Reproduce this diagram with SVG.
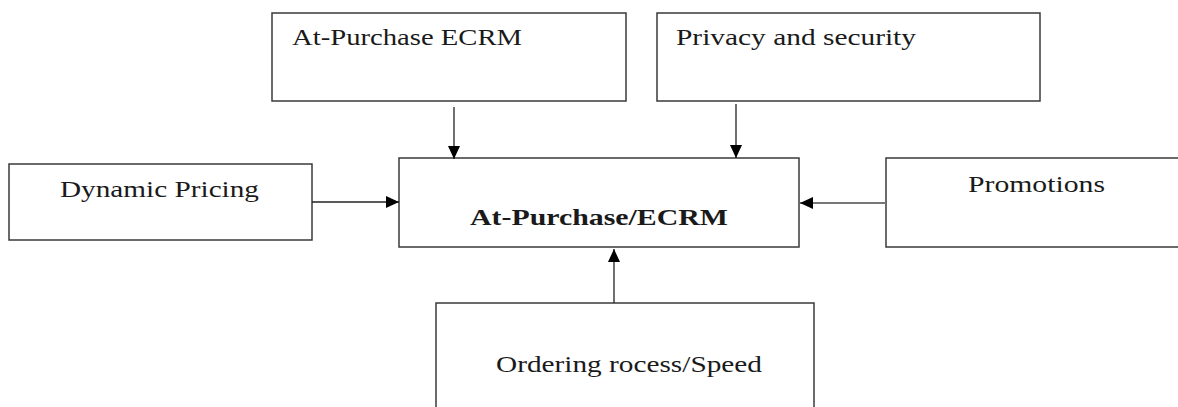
<svg xmlns="http://www.w3.org/2000/svg" width="1178" height="407" viewBox="0 0 1178 407">
<style>
.box{fill:#fff;stroke:#3a3a3a;stroke-width:1.5}
.t{font-family:'Liberation Serif','Times New Roman',Times,Tinos,serif;font-size:23px;fill:#1a1a1a}
.b{font-weight:bold}
.c{stroke:#222;stroke-width:1.3;fill:none;marker-end:url(#ah)}
</style>
<defs>
<marker id="ah" markerUnits="userSpaceOnUse" markerWidth="14" markerHeight="12" refX="13" refY="6" orient="auto">
<path d="M0,0 L13,6 L0,12 Z" fill="#000"/>
</marker>
</defs>
<rect width="1178" height="407" fill="#fff"/>
<g id="n-center"><rect class="box" x="399" y="158" width="400" height="89"/><text class="t b" x="470" y="225" textLength="258" lengthAdjust="spacingAndGlyphs">At-Purchase/ECRM</text></g>
<g id="n-atpurchase"><rect class="box" x="272" y="13" width="354" height="88"/><text class="t" x="292" y="45" textLength="230" lengthAdjust="spacingAndGlyphs">At-Purchase ECRM</text></g>
<g id="n-privacy"><rect class="box" x="657" y="13" width="383" height="88"/><text class="t" x="676" y="45" textLength="240" lengthAdjust="spacingAndGlyphs">Privacy and security</text></g>
<g id="n-dynamic"><rect class="box" x="9" y="164" width="303" height="76"/><text class="t" x="60" y="197" textLength="199" lengthAdjust="spacingAndGlyphs">Dynamic Pricing</text></g>
<g id="n-promotions"><rect class="box" x="886" y="158" width="300" height="89"/><text class="t" x="968" y="192" textLength="137" lengthAdjust="spacingAndGlyphs">Promotions</text></g>
<g id="n-ordering"><rect class="box" x="436" y="303" width="378" height="110"/><text class="t" x="496" y="372" textLength="266" lengthAdjust="spacingAndGlyphs">Ordering rocess/Speed</text></g>
<g id="connectors">
<line class="c" x1="454" y1="107" x2="454" y2="159"/>
<line class="c" x1="736" y1="104" x2="736" y2="158"/>
<line class="c" x1="312" y1="202" x2="399" y2="202"/>
<line class="c" x1="886" y1="203" x2="800" y2="203" style="stroke:#777;stroke-width:2"/>
<line class="c" x1="614" y1="303" x2="614" y2="249"/>
</g>
</svg>
